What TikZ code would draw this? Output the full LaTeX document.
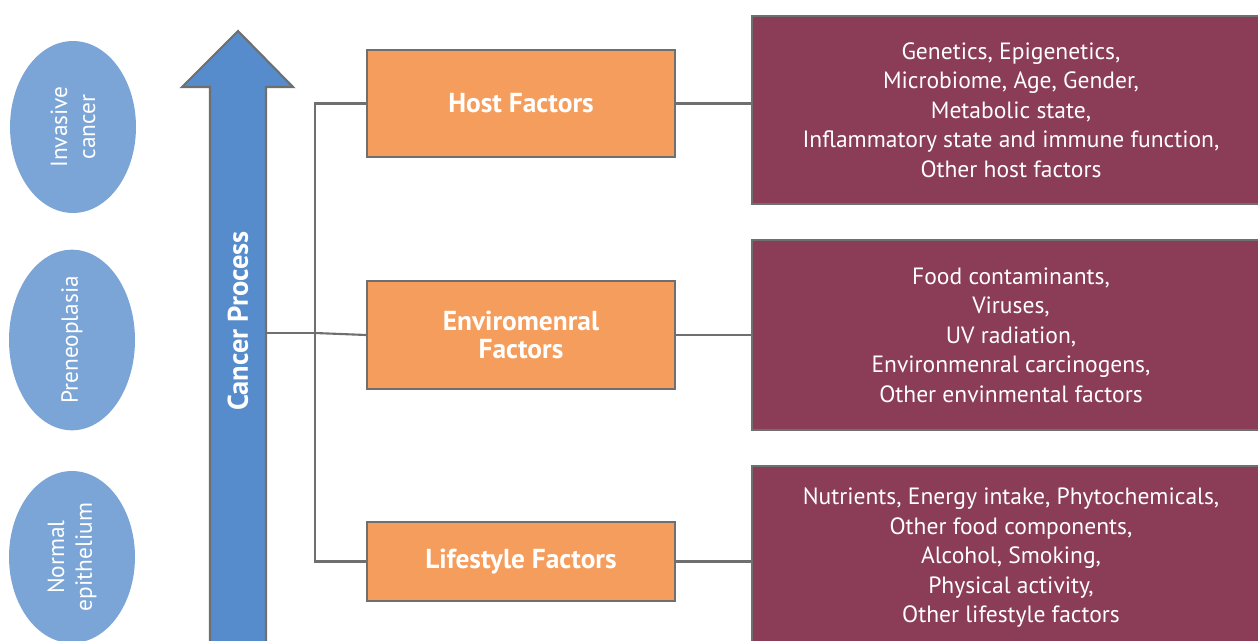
\documentclass[tikz,border=0pt]{standalone}
\usepackage{fontspec}
\setmainfont{PT Sans}
\usetikzlibrary{positioning,shapes.geometric}
\definecolor{stageblue}{HTML}{7BA5D7}
\definecolor{procblue}{HTML}{568CCB}
\definecolor{factororange}{HTML}{F59D5C}
\definecolor{detailred}{HTML}{8B3C57}
\definecolor{edgegray}{HTML}{6F6F6F}
\tikzset{
  stage/.style={ellipse, fill=stageblue, text=white, rotate=90,
    minimum width=3.44cm, minimum height=2.52cm, align=center,
    font=\fontsize{13.3}{15.9}\selectfont, inner sep=0pt},
  factor/.style={draw=edgegray, line width=1.2pt, fill=factororange,
    text=white, minimum width=6.16cm, align=center,
    font=\fontsize{15.6}{15.5}\selectfont\bfseries},
  detail/.style={draw=edgegray, line width=1.2pt, fill=detailred,
    text=white, minimum width=10.36cm, align=center,
    font=\fontsize{13.4}{16.8}\selectfont},
  link/.style={draw=edgegray, line width=1.2pt}
}
\begin{document}
\begin{tikzpicture}[x=0.02cm,y=-0.02cm]
\useasboundingbox (0,0) rectangle (1258,641);
% stages of the process
\node[stage] (inv) at (73,127) {Invasive\\cancer};
\node[stage] (pre) at (72,340) {Preneoplasia};
\node[stage] (norm) at (72,557) {Normal\\epithelium};
% big arrow
\draw[link, fill=procblue] (210,700) -- (210,87) -- (182,87) -- (238,31)
  -- (293,87) -- (266,87) -- (266,700) -- cycle;
\node[rotate=90, text=white, font=\fontsize{16.2}{18}\selectfont\bfseries]
  (proc) at (238,321) {Cancer Process};
\coordinate (procR) at (266,333);
\coordinate (bus) at (315,333);
% factors
\node[factor, minimum height=2.14cm] (host) at (521,103.5) {Host Factors};
\node[factor, minimum height=2.16cm] (env) at (521,335) {Enviromenral\\Factors};
\node[factor, minimum height=1.58cm] (life) at (521,561.5) {Lifestyle Factors};
% details
\node[detail, minimum height=3.76cm] (hostd) at (1011,110)
  {Genetics, Epigenetics,\\Microbiome, Age, Gender,\\Metabolic state,\\Inflammatory state and immune function,\\Other host factors};
\node[detail, minimum height=3.8cm] (envd) at (1011,335)
  {Food contaminants,\\Viruses,\\UV radiation,\\Environmenral carcinogens,\\Other envinmental factors};
\node[detail, minimum height=3.68cm] (lifed) at (1011,558)
  {Nutrients, Energy intake, Phytochemicals,\\Other food components,\\Alcohol, Smoking,\\Physical activity,\\Other lifestyle factors};
% connectors
\draw[link] (procR) -- (bus);
\draw[link] (host.west) -- (host.west -| bus) -- (life.west -| bus) -- (life.west);
\draw[link] (bus) -- (env.west);
\draw[link] (host.east) -- (host.east -| hostd.west);
\draw[link] (env.east) -- (env.east -| envd.west);
\draw[link] (life.east) -- (life.east -| lifed.west);
\end{tikzpicture}
\end{document}
